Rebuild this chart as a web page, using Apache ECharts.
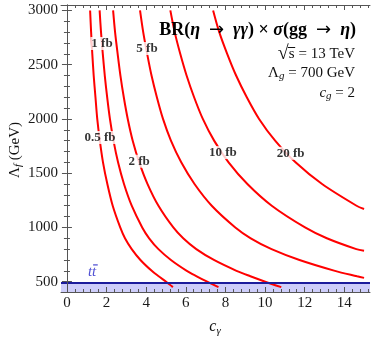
<!DOCTYPE html>
<html><head><meta charset="utf-8">
<script src="https://cdn.jsdelivr.net/npm/echarts@6/dist/echarts.min.js"></script>
<style>html,body{margin:0;padding:0;background:#fff}#c{width:374px;height:337px}</style>
</head><body><div id="c"></div>
<script>
// ---- data ----
const lambdaF = [3000, 2800, 2600, 2400, 2200, 2000, 1800, 1600, 1400, 1200, 1000, 900, 800, 700, 600, 550, 500, 450];
const cGamma_05fb = [1.17, 1.22, 1.28, 1.35, 1.44, 1.53, 1.66, 1.82, 2.04, 2.31, 2.69, 2.93, 3.27, 3.71, 4.28, 4.63, 5.01, 5.35];
const cGamma_1fb  = [1.65, 1.72, 1.81, 1.91, 2.03, 2.17, 2.35, 2.58, 2.88, 3.27, 3.80, 4.15, 4.62, 5.25, 6.05, 6.55, 7.08, 7.65];
const cGamma_2fb  = [2.33, 2.43, 2.56, 2.70, 2.87, 3.07, 3.32, 3.65, 4.07, 4.62, 5.37, 5.87, 6.53, 7.42, 8.56, 9.26, 10.01, 10.82];
const lambdaF_5fb = [3000, 2800, 2600, 2400, 2200, 2000, 1800, 1600, 1400, 1200, 1000, 900, 800, 700, 600, 550, 535];
const cGamma_5fb  = [3.69, 3.85, 4.05, 4.27, 4.54, 4.85, 5.25, 5.77, 6.44, 7.31, 8.50, 9.28, 10.33, 11.74, 13.53, 14.65, 15];
const lambdaF_10fb = [3000, 2800, 2600, 2400, 2200, 2000, 1800, 1600, 1400, 1200, 1000, 900, 800, 785];
const cGamma_10fb  = [5.22, 5.44, 5.72, 6.04, 6.42, 6.86, 7.43, 8.16, 9.11, 10.34, 12.02, 13.12, 14.61, 15];
const lambdaF_20fb = [3000, 2800, 2600, 2400, 2200, 2000, 1800, 1600, 1400, 1200, 1170];
const cGamma_20fb  = [7.38, 7.69, 8.09, 8.54, 9.08, 9.70, 10.51, 11.54, 12.88, 14.62, 15];

const contourNames = ['0.5 fb', '1 fb', '2 fb', '5 fb', '10 fb', '20 fb'];
const labelC = [1.67, 1.77, 3.64, 4.04, 7.87, 11.29];
const labelL = [1828, 2695, 1610, 2649, 1690, 1683];

const ttBarTop = 490;
const ttLabelPos = [1.27, 590];

const xMajorTicks = [0, 2, 4, 6, 8, 10, 12, 14];
const yMajorTicks = [500, 1000, 1500, 2000, 2500, 3000];
const xRange = [-0.3, 15.3];
const yRange = [405, 3050];

// ---- build ----
const xMinorTicks = [];
for (let i = 1; i <= 38; i++) { const v = +(i * 0.4).toFixed(1); if (v < xRange[1] && Math.abs(v / 2 - Math.round(v / 2)) > 1e-6) xMinorTicks.push(v); }
const yMinorTicks = [];
for (let v = 500; v <= 3000; v += 100) if (v % 500 !== 0) yMinorTicks.push(v);

function zip(cs, ls) { return cs.map((c, i) => [c, ls[i]]); }
const curves = [
  zip(cGamma_05fb, lambdaF), zip(cGamma_1fb, lambdaF), zip(cGamma_2fb, lambdaF),
  zip(cGamma_5fb, lambdaF_5fb), zip(cGamma_10fb, lambdaF_10fb), zip(cGamma_20fb, lambdaF_20fb)
];

const FRAME = '#555';
const SERIF = '"Liberation Serif", "Times New Roman", serif';
function ax(kind, pos, ticks, len, labels) {
  const range = kind === 'x' ? xRange : yRange;
  return {
    type: 'value', position: pos, min: range[0], max: range[1], z: 10,
    axisLine: { show: labels !== null, lineStyle: { color: FRAME, width: 1 } },
    axisTick: { show: true, inside: true, length: len, customValues: ticks, lineStyle: { color: FRAME, width: 1 } },
    axisLabel: labels ? { show: true, customValues: ticks, formatter: v => String(v), fontFamily: SERIF, fontSize: 15, color: '#1a1a1a', margin: kind === 'x' ? 4 : 3 } : { show: false },
    splitLine: { show: false }, minorTick: { show: false }
  };
}

// text measuring for the overbars
const mctx = document.createElement('canvas').getContext('2d');
function tw(t, f) { mctx.font = f; return mctx.measureText(t).width; }
const rightX = 355, sqrtY = 54;
const restW = tw(' = 13 TeV', '15px "Liberation Serif"');
const sW = tw('s', '15px "Liberation Serif"');

const chart = echarts.init(document.getElementById('c'), null, { renderer: 'canvas' });
const series = [];
series.push({
  type: 'line', data: [[xRange[0], yRange[0]]], symbol: 'none', lineStyle: { width: 0 }, z: 1, silent: true,
  markArea: { silent: true, itemStyle: { color: 'rgb(206,206,250)' }, data: [[{ yAxis: yRange[0] }, { yAxis: ttBarTop }]] },
  markLine: { silent: true, symbol: 'none', label: { show: false }, lineStyle: { color: '#1c1c9c', width: 2, type: 'solid' }, data: [{ yAxis: ttBarTop }] }
});
curves.forEach((d, i) => series.push({
  type: 'line', name: contourNames[i], data: d, symbol: 'none', smooth: 0.3, clip: true, z: 3,
  lineStyle: { color: '#ff0000', width: 2 }
}));
series.push({
  type: 'scatter', z: 5, symbolSize: 1, itemStyle: { color: 'rgba(0,0,0,0)' },
  data: contourNames.map((n, i) => [labelC[i], labelL[i], n]),
  label: { show: true, position: 'inside', formatter: p => p.data[2], fontFamily: SERIF, fontWeight: 'bold', fontSize: 13, color: '#000', backgroundColor: '#fff', padding: [0, 1] }
});
series.push({
  type: 'scatter', z: 5, symbolSize: 1, itemStyle: { color: 'rgba(0,0,0,0)' },
  data: [[ttLabelPos[0], ttLabelPos[1], 'tt']],
  label: { show: true, position: 'inside', formatter: p => p.data[2], fontFamily: SERIF, fontStyle: 'italic', fontSize: 15, color: '#2424c8' }
});

const ARW = { fontFamily: '"DejaVu Sans"', fontSize: 18, fill: '#000' };
const E = '\u2002';
chart.setOption({
  animation: false,
  backgroundColor: '#fff',
  grid: { left: 61, right: 4, top: 5, bottom: 45, show: false },
  xAxis: [ax('x', 'bottom', xMajorTicks, 5, true), ax('x', 'bottom', xMinorTicks, 3, null), ax('x', 'top', xMajorTicks, 5, false), ax('x', 'top', xMinorTicks, 3, null)],
  yAxis: [ax('y', 'left', yMajorTicks, 5, true), ax('y', 'left', yMinorTicks, 3, null), ax('y', 'right', yMajorTicks, 5, false), ax('y', 'right', yMinorTicks, 3, null)],
  series: series,
  graphic: [
    { type: 'text', x: 356, y: 30, z: 20, style: { text: '{b|BR(}{i|η}{b|' + E + '}{a|→}{b|' + E + '}{i|γγ}{b|) × }{i|σ}{b|(gg' + E + '}{a|→}{b|' + E + '}{i|η}{b|)}', align: 'right', verticalAlign: 'middle',
      rich: { b: { fontFamily: SERIF, fontWeight: 'bold', fontSize: 18, fill: '#000' }, i: { fontFamily: SERIF, fontWeight: 'bold', fontStyle: 'italic', fontSize: 18, fill: '#000' }, a: ARW } } },
    { type: 'text', x: rightX, y: sqrtY, z: 20, style: { text: '{r|√}{n|s = 13 TeV}', align: 'right', verticalAlign: 'middle',
      rich: { r: { fontFamily: SERIF, fontSize: 20, fill: '#111' }, n: { fontFamily: SERIF, fontSize: 15, fill: '#111' } } } },
    { type: 'line', z: 20, shape: { x1: rightX - restW - sW - 1, y1: sqrtY - 6.5, x2: rightX - restW + 0.5, y2: sqrtY - 6.5 }, style: { stroke: '#111', lineWidth: 1 } },
    { type: 'text', x: 355, y: 73, z: 20, style: { text: '{n|Λ}{s|g}{n| = 700 GeV}', align: 'right', verticalAlign: 'middle',
      rich: { n: { fontFamily: SERIF, fontSize: 15, fill: '#111' }, s: { fontFamily: SERIF, fontStyle: 'italic', fontSize: 11, fill: '#111', padding: [7, 0, 0, 0] } } } },
    { type: 'text', x: 355, y: 93, z: 20, style: { text: '{i|c}{s|g}{n| = 2}', align: 'right', verticalAlign: 'middle',
      rich: { n: { fontFamily: SERIF, fontSize: 15, fill: '#111' }, i: { fontFamily: SERIF, fontStyle: 'italic', fontSize: 15, fill: '#111' }, s: { fontFamily: SERIF, fontStyle: 'italic', fontSize: 11, fill: '#111', padding: [7, 0, 0, 0] } } } },
    { type: 'text', x: 215, y: 327, z: 20, style: { text: '{i|c}{s|γ}', align: 'center', verticalAlign: 'middle',
      rich: { i: { fontFamily: SERIF, fontStyle: 'italic', fontSize: 16, fill: '#111' }, s: { fontFamily: SERIF, fontStyle: 'italic', fontSize: 11, fill: '#111', padding: [8, 0, 0, 0] } } } },
    { type: 'text', x: 15, y: 150, rotation: Math.PI / 2, z: 20, style: { text: '{n|Λ}{s|f}{n| (GeV)}', align: 'center', verticalAlign: 'middle',
      rich: { n: { fontFamily: SERIF, fontSize: 15, fill: '#111' }, s: { fontFamily: SERIF, fontStyle: 'italic', fontSize: 11, fill: '#111', padding: [7, 0, 0, 0] } } } }
  ]
});

// bar over the second t of the tt label, placed from the data position
const ttPx = chart.convertToPixel({ xAxisIndex: 0, yAxisIndex: 0 }, ttLabelPos);
const tW = tw('t', 'italic 15px "Liberation Serif"');
chart.setOption({ graphic: [{ id: 'ttbar', type: 'line', z: 20, shape: { x1: ttPx[0] + 1, y1: ttPx[1] - 7, x2: ttPx[0] + tW + 1.5, y2: ttPx[1] - 7 }, style: { stroke: '#2424c8', lineWidth: 1 } }] });
</script></body></html>
